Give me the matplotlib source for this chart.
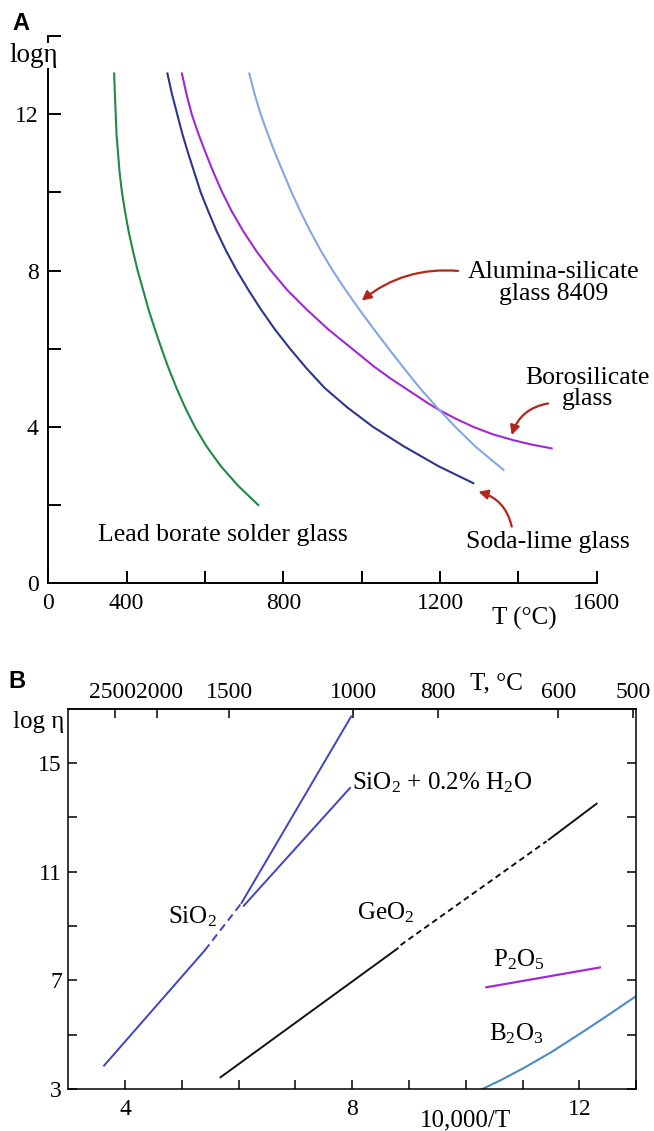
import matplotlib
matplotlib.use("Agg")
import matplotlib.pyplot as plt
from matplotlib.transforms import ScaledTranslation

plt.rcParams['font.family'] = ['Liberation Serif', 'DejaVu Serif']
plt.rcParams['mathtext.fontset'] = 'custom'
plt.rcParams['mathtext.rm'] = 'Liberation Serif'
plt.rcParams['mathtext.it'] = 'Liberation Serif:italic'
plt.rcParams['mathtext.default'] = 'regular'

# ---- panel A: log viscosity vs temperature (deg C) ----
lead_T = [368, 370, 372, 374, 378, 382, 388, 396, 405, 416, 428, 442, 456, 472, 489, 507,
          527, 549, 574, 604, 640, 684, 736]
lead_L = [13.04, 12.5, 12, 11.5, 11, 10.5, 10, 9.5, 9, 8.5, 8, 7.5, 7, 6.5, 6, 5.5,
          5, 4.5, 4, 3.5, 3, 2.5, 2]

soda_T = [504, 516, 529, 542, 557, 573, 589, 609, 630, 654, 681, 711, 743, 778, 817, 859,
          905, 963, 1029, 1108, 1195, 1285]
soda_L = [13.04, 12.5, 12, 11.5, 11, 10.5, 10, 9.5, 9, 8.5, 8, 7.5, 7, 6.5, 6, 5.5,
          5, 4.5, 4, 3.5, 3, 2.56]

boro_T = [541, 553, 566, 583, 602, 622, 644, 669, 698, 731, 768, 810, 860, 914, 941, 967,
          994, 1032, 1072, 1105, 1140, 1170, 1200, 1240, 1285, 1335, 1387, 1435, 1485]
boro_L = [13.04, 12.5, 12, 11.5, 11, 10.5, 10, 9.5, 9, 8.5, 8, 7.5, 7, 6.5, 6.28, 6.07,
          5.85, 5.54, 5.25, 5.03, 4.8, 4.6, 4.42, 4.21, 4.0, 3.81, 3.66, 3.545, 3.45]

alum_T = [713, 727, 742, 760, 779, 800, 821, 844, 869, 896, 926, 959, 994, 1031, 1069, 1108,
          1148, 1192, 1239, 1290, 1350, 1362]
alum_L = [13.04, 12.5, 12, 11.5, 11, 10.5, 10, 9.5, 9, 8.5, 8, 7.5, 7, 6.5, 6, 5.5,
          5, 4.5, 4, 3.5, 3, 2.9]

a_xticks = [200, 400, 600, 800, 1000, 1200, 1400, 1600]
a_xticklabels = ['0', '400', '', '800', '', '1200', '', '1600']
a_yticks = [0, 2, 4, 6, 8, 10, 12, 14]
a_yticklabels = ['0', '', '4', '', '8', '', '12', '']

# ---- panel B: log viscosity vs 10,000/T ----
sio2_low_x, sio2_low_y = [3.63, 5.40], [3.87, 8.10]
sio2_dash_x, sio2_dash_y = [5.40, 6.05], [8.10, 9.85]
sio2_up_x, sio2_up_y = [6.05, 7.98], [9.85, 16.71]
sio2w_x, sio2w_y = [6.09, 7.96], [9.75, 14.08]

geo2_low_x, geo2_low_y = [5.68, 8.80], [3.44, 8.18]
geo2_dash_x, geo2_dash_y = [8.85, 11.42], [8.30, 12.12]
geo2_up_x, geo2_up_y = [11.46, 12.30], [12.18, 13.50]

p2o5_x, p2o5_y = [10.36, 12.36], [6.75, 7.48]

b2o3_x = [10.28, 10.6, 11.0, 11.5, 12.0, 12.5, 13.0]
b2o3_y = [3.0, 3.32, 3.76, 4.36, 5.03, 5.72, 6.43]

b_xticks = [4, 5, 6, 7, 8, 9, 10, 11, 12, 13]
b_xticklabels = ['4', '', '', '', '8', '', '', '', '12', '']
b_yticks = [3, 5, 7, 9, 11, 13, 15]
b_yticklabels = ['3', '', '7', '', '11', '', '15']
top_ticks = [3.82, 4.57, 5.83, 8.02, 9.51, 11.63, 12.95]
top_labels = ['2500', '2000', '1500', '1000', '800', '600', '500']
top_label_shift = [-2, 2, 0, 0, 0, 0, 0]   # pixels, labels squeezed together in the original

arrow_red = '#b3261a'

fig = plt.figure(figsize=(6.54, 11.31), dpi=100)

# ================= A =================
axA = fig.add_axes([0.0739, 0.4843, 0.8385, 0.4839])
axA.plot(lead_T, lead_L, color='#1f8a45', lw=1.5)
axA.plot(soda_T, soda_L, color='#2b3788', lw=1.5)
axA.plot(boro_T, boro_L, color='#a028d6', lw=1.5)
axA.plot(alum_T, alum_L, color='#82a8e2', lw=1.5)

axA.set_xlim(200, 1600)
axA.set_ylim(0, 14)
for s in ['top', 'right']:
    axA.spines[s].set_visible(False)
for s in ['left', 'bottom']:
    axA.spines[s].set_linewidth(1.4)
axA.set_xticks(a_xticks)
axA.set_xticklabels(a_xticklabels)
axA.set_yticks(a_yticks)
axA.set_yticklabels(a_yticklabels)
axA.tick_params(direction='in', length=9, width=1.4, labelsize=17, pad=7)

axA.text(-0.07, 13.5, 'logη', transform=axA.get_yaxis_transform(), ha='left', va='center',
         fontsize=19.5, bbox=dict(fc='white', ec='none', pad=0), zorder=5)
axA.text(1414, -0.064, 'T (°C)', transform=axA.get_xaxis_transform(), ha='center', va='center',
         fontsize=18)

axA.text(645, 1.24, 'Lead borate solder glass', ha='center', va='center', fontsize=18.5)
axA.text(1476, 1.06, 'Soda-lime glass', ha='center', va='center', fontsize=18.5)
axA.text(1577, 4.99, 'Borosilicate\nglass', ha='center', va='center', fontsize=18.5,
         linespacing=0.95, clip_on=False)
axA.text(1491, 7.68, 'Alumina-silicate\nglass 8409', ha='center', va='center', fontsize=18.5,
         linespacing=0.95)

arrow_kw = dict(arrowstyle='-|>', color=arrow_red, lw=1.6, mutation_scale=14,
                shrinkA=0, shrinkB=0)
axA.annotate('', xy=(1000, 7.23), xytext=(1246, 7.99),
             arrowprops=dict(connectionstyle='arc3,rad=0.2', **arrow_kw))
axA.annotate('', xy=(1383, 3.79), xytext=(1476, 4.60),
             arrowprops=dict(connectionstyle='arc3,rad=0.3', **arrow_kw))
axA.annotate('', xy=(1298, 2.34), xytext=(1383, 1.45),
             arrowprops=dict(connectionstyle='arc3,rad=0.3', **arrow_kw))

fig.text(12 / 654, 1 - 23.5 / 1131, 'A', fontfamily='Liberation Sans', fontweight='bold',
         fontsize=17, ha='left', va='center')

# ================= B =================
axB = fig.add_axes([0.1044, 0.0369, 0.8685, 0.3366])
blue = '#3c44c4'
axB.plot(sio2_low_x, sio2_low_y, color=blue, lw=1.4)
axB.plot(sio2_dash_x, sio2_dash_y, color=blue, lw=1.4, linestyle=(0, (4, 2.5)))
axB.plot(sio2_up_x, sio2_up_y, color=blue, lw=1.4)
axB.plot(sio2w_x, sio2w_y, color=blue, lw=1.4)
axB.plot(geo2_low_x, geo2_low_y, color='#111111', lw=1.4)
axB.plot(geo2_dash_x, geo2_dash_y, color='#111111', lw=1.4, linestyle=(0, (3, 2)))
axB.plot(geo2_up_x, geo2_up_y, color='#111111', lw=1.4)
axB.plot(p2o5_x, p2o5_y, color='#a42ad6', lw=1.6)
axB.plot(b2o3_x, b2o3_y, color='#4a8cc4', lw=1.5)

axB.set_xlim(3, 13)
axB.set_ylim(3, 17)
for s in axB.spines.values():
    s.set_linewidth(1.1)
axB.set_xticks(b_xticks)
axB.set_xticklabels(b_xticklabels)
axB.set_yticks(b_yticks)
axB.set_yticklabels(b_yticklabels)
axB.tick_params(direction='in', length=6.5, width=1.1, labelsize=17, right=True)
axB.tick_params(axis='y', pad=4.5)
axB.tick_params(axis='x', pad=7)

sec = axB.secondary_xaxis('top')
sec.set_xticks(top_ticks, labels=top_labels)
sec.tick_params(direction='in', length=6.5, width=1.1, labelsize=17, pad=4)
sec.spines['top'].set_linewidth(1.1)
for tick, dx in zip(sec.xaxis.get_major_ticks(), top_label_shift):
    for lab in (tick.label1, tick.label2):
        lab.set_transform(lab.get_transform() + ScaledTranslation(dx / 100, 0, fig.dpi_scale_trans))

axB.text(-0.006, 16.52, 'log η', transform=axB.get_yaxis_transform(), ha='right', va='center',
         fontsize=18)
axB.text(10.53, 1.0665, 'T, °C', transform=axB.get_xaxis_transform(), ha='center', va='center',
         fontsize=18)
axB.text(10.0, -0.0812, '10,000/T', transform=axB.get_xaxis_transform(), ha='center', va='center',
         fontsize=18)

axB.text(5.19, 9.35, 'SiO$_2$', ha='center', va='center', fontsize=18)
axB.text(8.58, 9.48, 'GeO$_2$', ha='center', va='center', fontsize=18)
axB.text(7.99, 14.26, 'SiO$_2$ + 0.2% H$_2$O', ha='left', va='center', fontsize=18)
axB.text(10.93, 7.76, 'P$_2$O$_5$', ha='center', va='center', fontsize=18)
axB.text(10.88, 5.04, 'B$_2$O$_3$', ha='center', va='center', fontsize=18)

fig.text(8 / 654, 1 - 682 / 1131, 'B', fontfamily='Liberation Sans', fontweight='bold',
         fontsize=17, ha='left', va='center')

fig.savefig('out.png', dpi=100)
